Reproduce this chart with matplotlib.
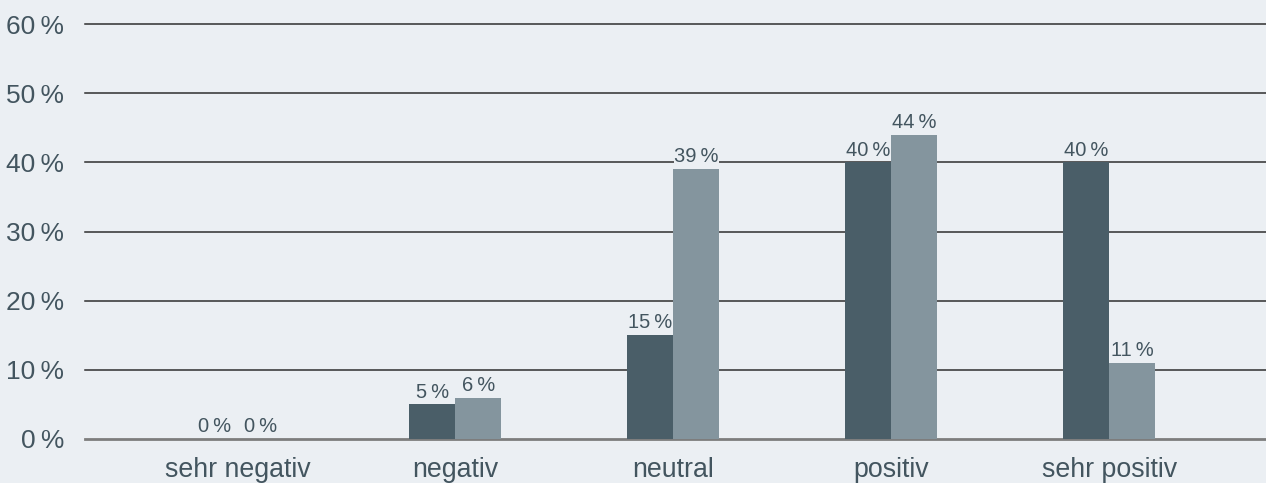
import numpy as np
import matplotlib
matplotlib.use("Agg")
import matplotlib.pyplot as plt

plt.rcParams['font.family'] = ['Liberation Sans', 'DejaVu Sans']

categories = ['sehr negativ', 'negativ', 'neutral', 'positiv', 'sehr positiv']
series_a = [0, 5, 15, 40, 40]
series_b = [0, 6, 39, 44, 11]
yticks = [0, 10, 20, 30, 40, 50, 60]

bg = '#ebeff3'
dark = '#4a5e68'
light = '#84959e'
text_col = '#43555f'

fig = plt.figure(figsize=(12.66, 4.83), dpi=100, facecolor=bg)
ax = fig.add_axes([85 / 1266, 44 / 483, 1 - 85 / 1266, 415 / 483])
ax.set_facecolor(bg)

x = np.arange(len(categories))
w = 0.211

for t in yticks:
    if t == 0:
        ax.axhline(t, color='#7d7d7d', lw=2, zorder=1, clip_on=False)
    else:
        ax.axhline(t, color='#2e2e2e', lw=1.1, zorder=1, clip_on=False)

bars_a = ax.bar(x - w / 2, series_a, w, color=dark, zorder=2)
bars_b = ax.bar(x + w / 2, series_b, w, color=light, zorder=2)

for bars, vals in [(bars_a, series_a), (bars_b, series_b)]:
    for b, v in zip(bars, vals):
        ax.annotate(f'{v}\u2009%', (b.get_x() + b.get_width() / 2, v),
                    xytext=(0, 2), textcoords='offset points',
                    ha='center', va='bottom', fontsize=14.5, color=text_col,
                    zorder=3,
                    bbox=dict(facecolor=bg, edgecolor='none', pad=0.3))

ax.set_xlim(-0.70, 4.72)
ax.set_ylim(0, 60)
ax.set_xticks(x)
ax.set_xticklabels(categories, fontsize=19.3, color=text_col)
ax.set_yticks(yticks)
ax.set_yticklabels([f'{t}\u2009%' for t in yticks], fontsize=19, color=text_col)
ax.tick_params(length=0)
ax.tick_params(axis='y', pad=15)
ax.tick_params(axis='x', pad=13)
for s in ax.spines.values():
    s.set_visible(False)

fig.savefig('out.png', dpi=100, facecolor=bg)
